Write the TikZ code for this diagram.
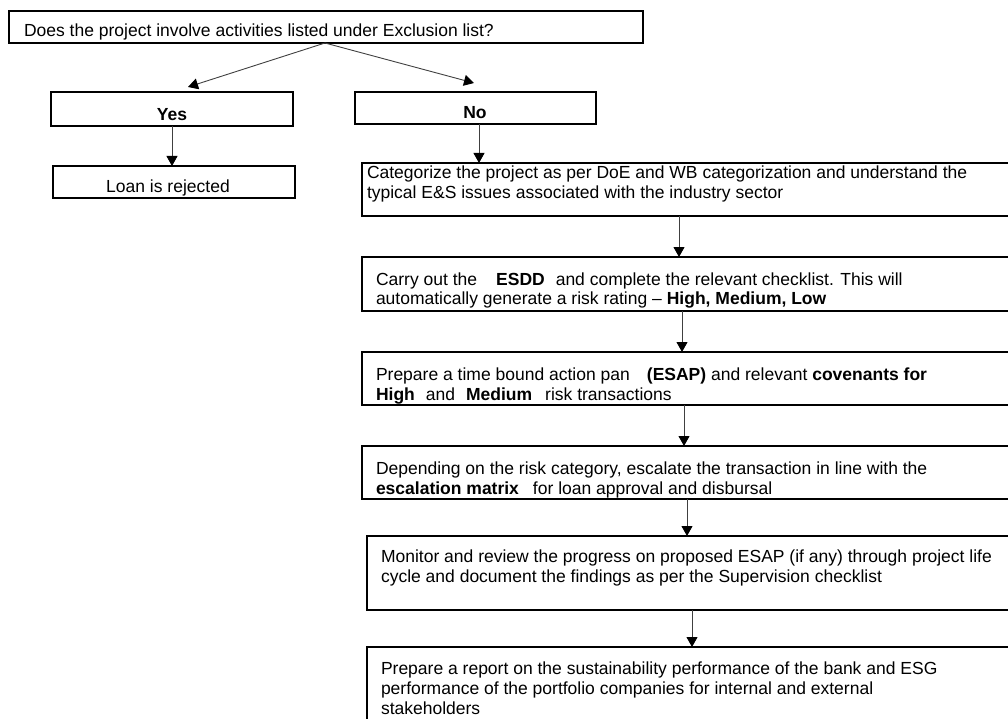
\documentclass[tikz,border=0pt]{standalone}
\usepackage{fontspec}
\setmainfont{Liberation Sans}
\usetikzlibrary{arrows.meta}
\tikzset{
  box/.style={draw=black, line width=1.2pt, rectangle, inner sep=0pt, outer sep=0pt},
  txt/.style={inner sep=0pt, outer sep=0pt, font=\fontsize{17.5}{20}\selectfont},
  arr/.style={draw=black!75, line width=0.9pt, -{Triangle[length=10pt,width=11pt,fill=black,color=black]}}
}
\begin{document}
\begin{tikzpicture}[x=1pt,y=-1pt]
\useasboundingbox (0,0) rectangle (1008,719);
% boxes
\node[box, anchor=north west, minimum width=634pt, minimum height=32pt] (top) at (9,11) {};
\node[box, anchor=north west, minimum width=242pt, minimum height=34pt] (yes) at (51,92) {};
\node[box, anchor=north west, minimum width=241pt, minimum height=32pt] (no) at (355,92) {};
\node[box, anchor=north west, minimum width=242pt, minimum height=32pt] (loan) at (53,166) {};
\node[box, anchor=north west, minimum width=668pt, minimum height=53pt] (cat) at (362,163) {};
\node[box, anchor=north west, minimum width=668pt, minimum height=54pt] (esdd) at (362,257) {};
\node[box, anchor=north west, minimum width=668pt, minimum height=53pt] (esap) at (362,352) {};
\node[box, anchor=north west, minimum width=668pt, minimum height=53pt] (esc) at (362,446) {};
\node[box, anchor=north west, minimum width=663pt, minimum height=74pt] (mon) at (367,536) {};
\node[box, anchor=north west, minimum width=663pt, minimum height=100pt] (rep) at (367,647) {};
% texts
\node[txt, anchor=base west] (ttop) at (24,37) {Does the project involve activities listed under Exclusion list?};
\node[txt, anchor=base] (tyes) at (172,121) {\textbf{Yes}};
\node[txt, anchor=base] (tno) at (475,119) {\textbf{No}};
\node[txt, anchor=base] (tloan) at (168,193) {Loan is rejected};
\node[txt, anchor=base west] (tcat1) at (367,179) {Categorize the project as per DoE and WB categorization and understand the};
\node[txt, anchor=base west] (tcat2) at (367,199) {typical E\&S issues associated with the industry sector};
\node[txt, anchor=base west] (tesdd1) at (376,285) {Carry out the\hspace{19pt}\textbf{ESDD}\hspace{11pt}and complete the relevant checklist. This will};
\node[txt, anchor=base west] (tesdd2) at (376,304) {automatically generate a risk rating – \textbf{High, Medium, Low}};
\node[txt, anchor=base west] (tesap1) at (376,380) {Prepare a time bound action pan\hspace{17pt}\textbf{(ESAP)} and relevant \textbf{covenants for}};
\node[txt, anchor=base west] (tesap2) at (376,400) {\textbf{High}\hspace{11pt}and\hspace{11pt}\textbf{Medium}\hspace{13pt}risk transactions};
\node[txt, anchor=base west] (tesc1) at (376,474) {Depending on the risk category, escalate the transaction in line with the};
\node[txt, anchor=base west] (tesc2) at (376,494) {\textbf{escalation matrix}\hspace{14pt}for loan approval and disbursal};
\node[txt, anchor=base west] (tmon1) at (381,562) {Monitor and review the progress on proposed ESAP (if any) through project life};
\node[txt, anchor=base west] (tmon2) at (381,582) {cycle and document the findings as per the Supervision checklist};
\node[txt, anchor=base west] (trep1) at (381,674) {Prepare a report on the sustainability performance of the bank and ESG};
\node[txt, anchor=base west] (trep2) at (381,694) {performance of the portfolio companies for internal and external};
\node[txt, anchor=base west] (trep3) at (381,714) {stakeholders};
% connectors
\draw[arr] ([xshift=316pt]top.south west) -- ([xshift=137pt,yshift=5pt]yes.north west);
\draw[arr] ([xshift=316pt]top.south west) -- ([xshift=119pt,yshift=9pt]no.north west);
\draw[arr] ([xshift=121pt]yes.south west) -- ([xshift=119pt]loan.north west);
\draw[arr] ([xshift=124pt]no.south west) -- ([xshift=117pt]cat.north west);
\draw[arr] ([xshift=317pt]cat.south west) -- ([xshift=317pt]esdd.north west);
\draw[arr] ([xshift=320pt]esdd.south west) -- ([xshift=320pt]esap.north west);
\draw[arr] ([xshift=322pt]esap.south west) -- ([xshift=322pt]esc.north west);
\draw[arr] ([xshift=325pt]esc.south west) -- ([xshift=320pt]mon.north west);
\draw[arr] ([xshift=325pt]mon.south west) -- ([xshift=325pt]rep.north west);
\end{tikzpicture}
\end{document}
